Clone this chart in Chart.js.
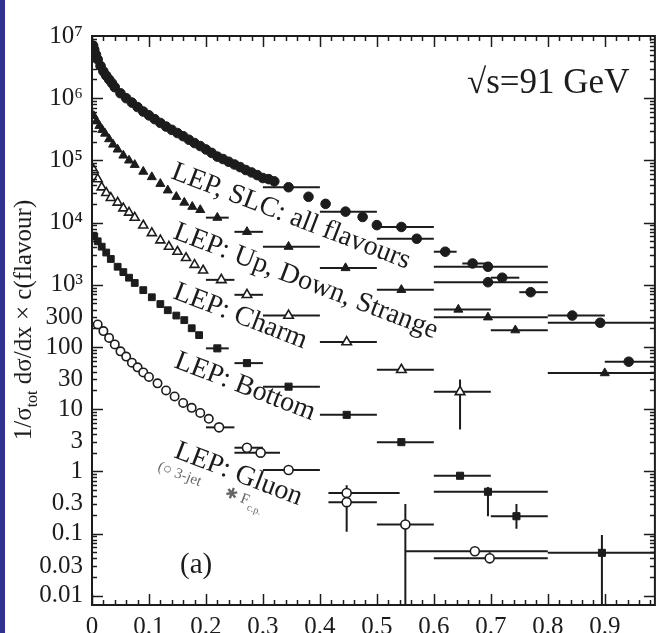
<!DOCTYPE html>
<html>
<head>
<meta charset="utf-8">
<script src="https://cdn.jsdelivr.net/npm/chart.js@4"></script>
<style>
  html, body { margin: 0; padding: 0; background: #fff; }
  #wrap { position: relative; width: 662px; height: 633px; }
  #strip { position: absolute; left: 0; top: 0; width: 5px; height: 633px; background: #2e3092; }
  canvas { position: absolute; left: 0; top: 0; }
</style>
</head>
<body>
<div id="wrap">
  <canvas id="fragChart" width="662" height="633"></canvas>
  <div id="strip"></div>
</div>
<script>
// ---- data ----
// LEP, SLC: all flavours (filled circles)
const allX = [0.002, 0.004, 0.007, 0.01, 0.015, 0.02, 0.025, 0.03, 0.035, 0.04, 0.05, 0.06, 0.07, 0.08, 0.09, 0.1, 0.11, 0.12, 0.13, 0.14, 0.15, 0.16, 0.17, 0.18, 0.19, 0.2, 0.21, 0.22, 0.23, 0.24, 0.25, 0.26, 0.27, 0.28, 0.29, 0.3, 0.31, 0.32, 0.38, 0.41, 0.475, 0.5];
const allY = [7e6, 6e6, 5e6, 4.2e6, 3.3e6, 2.7e6, 2.3e6, 2e6, 1.75e6, 1.5e6, 1.2e6, 1e6, 8.5e5, 7.2e5, 6.1e5, 5.3e5, 4.6e5, 4e5, 3.5e5, 3.1e5, 2.75e5, 2.45e5, 2.15e5, 1.9e5, 1.7e5, 1.5e5, 1.32e5, 1.15e5, 1.05e5, 9.5e4, 8.6e4, 7.8e4, 7e4, 6.4e4, 5.8e4, 5.2e4, 5e4, 4.6e4, 2.6e4, 2e4, 1.23e4, 9.1e3];
const allBinX = [0.345, 0.445, 0.543, 0.57, 0.62, 0.668, 0.695, 0.72, 0.695, 0.77, 0.843, 0.892, 0.942];
const allBinY = [3.7e4, 1.5e4, 8.5e3, 5.5e3, 3.4e3, 2.2e3, 1.95e3, 1.3e3, 1.1e3, 760, 320, 245, 58];
const allBinLo = [0.3, 0.4, 0.5, 0.5, 0.6, 0.65, 0.6, 0.7, 0.6, 0.75, 0.8, 0.8, 0.9];
const allBinHi = [0.4, 0.5, 0.6, 0.6, 0.64, 0.7, 0.8, 0.75, 0.8, 0.8, 0.9, 1.0, 1.0];

// LEP: Up, Down, Strange (filled triangles)
const udsX = [0.003, 0.008, 0.013, 0.018, 0.023, 0.03, 0.037, 0.045, 0.055, 0.065, 0.075, 0.09, 0.105, 0.12, 0.133, 0.148, 0.162, 0.176, 0.19];
const udsY = [5.2e5, 4.3e5, 3.6e5, 3.1e5, 2.7e5, 2.2e5, 1.8e5, 1.5e5, 1.2e5, 1e5, 8.5e4, 6.6e4, 5.4e4, 4.2e4, 3.3e4, 2.6e4, 2.1e4, 1.8e4, 1.6e4];
const udsBinX = [0.22, 0.272, 0.345, 0.445, 0.543, 0.643, 0.695, 0.743, 0.9];
const udsBinY = [1.2e4, 7.1e3, 4.1e3, 1.86e3, 830, 400, 300, 186, 38];
const udsBinLo = [0.2, 0.25, 0.3, 0.4, 0.5, 0.6, 0.6, 0.7, 0.8];
const udsBinHi = [0.24, 0.3, 0.4, 0.5, 0.6, 0.7, 0.8, 0.8, 1.0];

// LEP: Charm (open triangles)
const charmX = [0.003, 0.01, 0.017, 0.025, 0.033, 0.045, 0.055, 0.065, 0.075, 0.09, 0.105, 0.12, 0.135, 0.15, 0.165, 0.18, 0.195];
const charmY = [7e4, 5e4, 3.7e4, 3e4, 2.5e4, 2.1e4, 1.7e4, 1.45e4, 1.2e4, 9e3, 6.8e3, 5.2e3, 4.1e3, 3.4e3, 2.7e3, 2.1e3, 1.7e3];
const charmBinX = [0.227, 0.272, 0.345, 0.447, 0.543, 0.646];
const charmBinY = [1.2e3, 690, 320, 120, 43, 19];
const charmBinLo = [0.2, 0.25, 0.3, 0.4, 0.5, 0.6];
const charmBinHi = [0.25, 0.3, 0.4, 0.5, 0.6, 0.7];
const charmErrLo = [null, null, null, null, null, 4.7];
const charmErrHi = [null, null, null, null, null, 30];

// LEP: Bottom (filled squares)
const bottomX = [0.004, 0.01, 0.017, 0.025, 0.033, 0.045, 0.055, 0.065, 0.075, 0.09, 0.105, 0.12, 0.133, 0.148, 0.162, 0.175, 0.188];
const bottomY = [6e3, 5e3, 4.1e3, 3.3e3, 2.6e3, 1.95e3, 1.6e3, 1.3e3, 1.07e3, 820, 630, 490, 390, 320, 270, 200, 155];
const bottomBinX = [0.22, 0.272, 0.345, 0.447, 0.543, 0.646, 0.695, 0.745, 0.895];
const bottomBinY = [95, 55, 23, 8.1, 2.95, 0.85, 0.47, 0.19, 0.049];
const bottomBinLo = [0.2, 0.25, 0.3, 0.4, 0.5, 0.6, 0.6, 0.7, 0.8];
const bottomBinHi = [0.24, 0.3, 0.4, 0.5, 0.6, 0.7, 0.8, 0.8, 1.0];
const bottomErrLo = [null, null, null, null, null, null, 0.19, 0.12, 0.001];
const bottomErrHi = [null, null, null, null, null, null, 0.56, 0.3, 0.095];

// LEP: Gluon (open circles)
const gluonX = [0.01, 0.02, 0.03, 0.04, 0.05, 0.06, 0.07, 0.08, 0.09, 0.1, 0.115, 0.13, 0.145, 0.16, 0.175, 0.19, 0.205];
const gluonY = [230, 180, 140, 110, 85, 70, 56, 47, 39, 33, 26, 20, 16, 12.6, 10.5, 8.7, 7];
const gluonBinX = [0.223, 0.272, 0.296, 0.345, 0.447, 0.447, 0.55, 0.672, 0.698];
const gluonBinY = [5.1, 2.4, 2.0, 1.05, 0.45, 0.32, 0.14, 0.052, 0.04];
const gluonBinLo = [0.2, 0.25, 0.25, 0.3, 0.415, 0.415, 0.5, 0.55, 0.6];
const gluonBinHi = [0.25, 0.3, 0.33, 0.4, 0.54, 0.5, 0.6, 0.8, 0.8];
const gluonErrLo = [null, null, null, null, null, 0.107, 0.001, null, 0.033];
const gluonErrHi = [null, null, null, null, null, 0.6, 0.3, null, 0.05];

// axis ticks
const xTickValues = [0, 0.1, 0.2, 0.3, 0.4, 0.5, 0.6, 0.7, 0.8, 0.9];
const xTickLabels = ["0", "0.1", "0.2", "0.3", "0.4", "0.5", "0.6", "0.7", "0.8", "0.9"];
const yTickValues = [1e7, 1e6, 1e5, 1e4, 1e3, 300, 100, 30, 10, 3, 1, 0.3, 0.1, 0.03, 0.01];
const yTickLabels = ["10⁷", "10⁶", "10⁵", "10⁴", "10³", "300", "100", "30", "10", "3", "1", "0.3", "0.1", "0.03", "0.01"];

const SERIF = "'Liberation Serif', 'DejaVu Serif', serif";
const INK = "#1c1c1c";

function pts(xs, ys) {
  return xs.map((x, i) => ({ x: x, y: ys[i] }));
}

function makeSet(xs, ys, style, open, radius, bins) {
  const ds = {
    data: pts(xs, ys),
    pointStyle: style,
    pointRadius: radius,
    pointBackgroundColor: open ? "#ffffff" : INK,
    pointBorderColor: INK,
    pointBorderWidth: open ? 1.6 : 1,
    showLine: false,
  };
  if (bins) {
    ds.xLo = bins[0];
    ds.xHi = bins[1];
    ds.yLo = bins[2] || null;
    ds.yHi = bins[3] || null;
  }
  return ds;
}

// x bins and y errors, drawn under the markers
const errorBarPlugin = {
  id: "errorBars",
  beforeDatasetsDraw: function (chart) {
    const ctx = chart.ctx;
    const xs = chart.scales.x;
    const ys = chart.scales.y;
    const a = chart.chartArea;
    ctx.save();
    ctx.beginPath();
    ctx.rect(a.left, a.top, a.right - a.left, a.bottom - a.top);
    ctx.clip();
    ctx.strokeStyle = INK;
    ctx.lineWidth = 2;
    chart.data.datasets.forEach(function (ds) {
      if (!ds.xLo) return;
      ds.data.forEach(function (p, i) {
        const py = ys.getPixelForValue(p.y);
        ctx.beginPath();
        ctx.moveTo(xs.getPixelForValue(ds.xLo[i]), py);
        ctx.lineTo(xs.getPixelForValue(ds.xHi[i]), py);
        if (ds.yLo && ds.yLo[i] != null) {
          const px = xs.getPixelForValue(p.x);
          ctx.moveTo(px, ys.getPixelForValue(ds.yLo[i]));
          ctx.lineTo(px, ys.getPixelForValue(ds.yHi[i]));
        }
        ctx.stroke();
      });
    });
    ctx.restore();
  },
};

// frame with inward ticks on all four sides
const framePlugin = {
  id: "frame",
  afterDatasetsDraw: function (chart) {
    const ctx = chart.ctx;
    const xs = chart.scales.x;
    const ys = chart.scales.y;
    const a = chart.chartArea;
    ctx.save();
    ctx.strokeStyle = INK;
    ctx.lineWidth = 1.5;
    for (let d = -2; d <= 6; d++) {
      for (let m = 1; m <= 9; m++) {
        const v = m * Math.pow(10, d);
        if (v < ys.min || v > ys.max) continue;
        const py = Math.round(ys.getPixelForValue(v)) + 0.5;
        const len = m === 1 ? 11 : 5;
        ctx.beginPath();
        ctx.moveTo(a.left, py);
        ctx.lineTo(a.left + len, py);
        ctx.moveTo(a.right, py);
        ctx.lineTo(a.right - len, py);
        ctx.stroke();
      }
    }
    for (let k = 0; k <= 50; k++) {
      const v = k * 0.02;
      if (v > xs.max) continue;
      const px = Math.round(xs.getPixelForValue(v)) + 0.5;
      const len = k % 5 === 0 ? 11 : 5;
      ctx.beginPath();
      ctx.moveTo(px, a.bottom);
      ctx.lineTo(px, a.bottom - len);
      ctx.moveTo(px, a.top);
      ctx.lineTo(px, a.top + len);
      ctx.stroke();
    }
    ctx.lineWidth = 2;
    ctx.strokeRect(a.left, a.top, a.right - a.left, a.bottom - a.top);
    ctx.restore();
  },
};

// curve labels, energy, panel tag and the y title
const textPlugin = {
  id: "texts",
  afterDraw: function (chart) {
    const ctx = chart.ctx;
    const ang = 21 * Math.PI / 180;
    const curveLabels = [
      ["LEP, SLC: all flavours", 170, 178],
      ["LEP: Up, Down, Strange", 172, 238],
      ["LEP: Charm", 172, 298],
      ["LEP: Bottom", 173, 367],
      ["LEP: Gluon", 173, 457],
    ];
    ctx.save();
    ctx.fillStyle = INK;
    ctx.textBaseline = "alphabetic";
    ctx.font = "28px " + SERIF;
    curveLabels.forEach(function (l) {
      ctx.save();
      ctx.translate(l[1], l[2]);
      ctx.rotate(ang);
      ctx.fillText(l[0], 0, 0);
      ctx.restore();
    });

    ctx.save();
    ctx.fillStyle = "#666";
    ctx.translate(157, 470);
    ctx.rotate(ang);
    ctx.font = "15px " + SERIF;
    ctx.fillText("(○ 3-jet       ✱ F", 0, 0);
    const w = ctx.measureText("(○ 3-jet       ✱ F").width;
    ctx.font = "10px " + SERIF;
    ctx.fillText("c.p.", w + 1, 5);
    ctx.restore();

    ctx.font = "35px " + SERIF;
    ctx.fillText("√s=91 GeV", 467, 93);
    ctx.font = "29px " + SERIF;
    ctx.fillText("(a)", 180, 573);

    // y title with subscript
    const parts = [
      ["1/σ", 25, 0],
      ["tot", 16, 6],
      [" dσ/dx × c(flavour)", 25, 0],
    ];
    let total = 0;
    parts.forEach(function (p) {
      ctx.font = p[1] + "px " + SERIF;
      total += ctx.measureText(p[0]).width;
    });
    ctx.translate(31, 320);
    ctx.rotate(-Math.PI / 2);
    let cx = -total / 2;
    parts.forEach(function (p) {
      ctx.font = p[1] + "px " + SERIF;
      ctx.fillText(p[0], cx, p[2]);
      cx += ctx.measureText(p[0]).width;
    });
    ctx.restore();
  },
};

const ctx = document.getElementById("fragChart").getContext("2d");
const fragChart = new Chart(ctx, {
  type: "scatter",
  data: {
    datasets: [
      makeSet(allX, allY, "circle", false, 4.8),
      makeSet(allBinX, allBinY, "circle", false, 4.8, [allBinLo, allBinHi]),
      makeSet(udsX, udsY, "triangle", false, 5.2),
      makeSet(udsBinX, udsBinY, "triangle", false, 5.2, [udsBinLo, udsBinHi]),
      makeSet(charmX, charmY, "triangle", true, 5.2),
      makeSet(charmBinX, charmBinY, "triangle", true, 5.5, [charmBinLo, charmBinHi, charmErrLo, charmErrHi]),
      makeSet(bottomX, bottomY, "rect", false, 4.8),
      makeSet(bottomBinX, bottomBinY, "rect", false, 5, [bottomBinLo, bottomBinHi, bottomErrLo, bottomErrHi]),
      makeSet(gluonX, gluonY, "circle", true, 4.2),
      makeSet(gluonBinX, gluonBinY, "circle", true, 4.5, [gluonBinLo, gluonBinHi, gluonErrLo, gluonErrHi]),
    ],
  },
  options: {
    responsive: false,
    animation: false,
    devicePixelRatio: 1,
    layout: {
      padding: { top: 36, right: 7, left: 0, bottom: 0 },
    },
    plugins: {
      legend: { display: false },
      tooltip: { enabled: false },
    },
    scales: {
      x: {
        type: "linear",
        min: 0,
        max: 0.988,
        afterBuildTicks: function (scale) {
          scale.ticks = xTickValues.map(function (v) { return { value: v }; });
        },
        afterFit: function (scale) {
          scale.height = 28;
        },
        grid: { display: false, drawTicks: false },
        border: { display: false },
        ticks: {
          autoSkip: false,
          maxRotation: 0,
          padding: 7,
          color: INK,
          font: { size: 25, family: SERIF },
          callback: function (value) {
            return xTickLabels[xTickValues.indexOf(value)];
          },
        },
      },
      y: {
        type: "logarithmic",
        min: 0.0071,
        max: 1e7,
        afterBuildTicks: function (scale) {
          scale.ticks = yTickValues.map(function (v) { return { value: v }; });
        },
        afterFit: function (scale) {
          scale.width = 92;
        },
        grid: { display: false, drawTicks: false },
        border: { display: false },
        ticks: {
          autoSkip: false,
          padding: 9,
          color: INK,
          font: { size: 25, family: SERIF },
          callback: function (value) {
            return yTickLabels[yTickValues.indexOf(value)];
          },
        },
      },
    },
  },
  plugins: [errorBarPlugin, framePlugin, textPlugin],
});
</script>
</body>
</html>
